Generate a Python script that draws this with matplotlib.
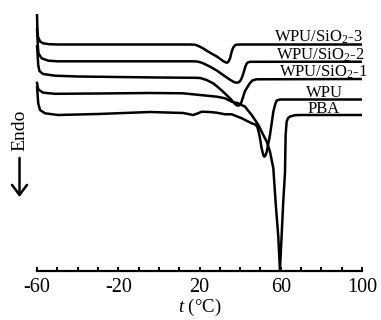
import matplotlib
matplotlib.use("Agg")
import matplotlib.pyplot as plt
from matplotlib.ticker import FixedLocator, MultipleLocator

plt.rcParams['font.family'] = ['Liberation Serif', 'DejaVu Serif']
plt.rcParams['mathtext.fontset'] = 'custom'
plt.rcParams['mathtext.rm'] = 'Liberation Serif'
plt.rcParams['mathtext.it'] = 'Liberation Serif:italic'
plt.rcParams['axes.unicode_minus'] = False

# ---- data (temperature in degC, heat flow in arbitrary units) ----
t_s3 = [-60, -59.8, -59.5, -58.5, -57, -54, -50, -20, 10, 15, 17.8, 19.5, 21.7, 25, 28.7, 31.6,
        32.8, 33.6, 34.3, 35.1, 35.8, 36.6, 37.5, 38.5, 40, 60, 100]
hf_s3 = [266, 250, 243, 238.5, 236.7, 235.8, 235.5, 235.5, 235.5, 235.5, 235.3, 234, 231.7, 227.5, 223.3, 219,
         217.7, 217.3, 218.5, 222, 228, 232.5, 234.8, 235.4, 235.5, 235.5, 235.5]

t_s2 = [-60, -59.6, -59.3, -57.7, -54.4, -50, 0, 16, 18.8, 20.5, 22, 25.2, 28.5, 31.6, 34.5, 36.6,
        37.5, 38.5, 39.4, 40.2, 41, 41.8, 42.5, 43.2, 43.9, 45, 100]
hf_s2 = [252, 235, 226.7, 221.7, 219.3, 218.7, 218.7, 218.7, 218.5, 217.7, 216.5, 213.3, 209.5, 205, 201, 198.3,
         197.6, 197.3, 197.8, 199.5, 203, 208, 213, 216.3, 217.7, 218.2, 218.3]

t_s1 = [-60, -59.4, -58.8, -57, -51.1, -40, 0, 18, 20.3, 23.5, 26.7, 29, 31.6, 35, 37.5,
        38.3, 39.1, 39.8, 40.5, 42.4, 44.5, 46, 48, 100]
hf_s1 = [235, 215, 209, 206, 204.3, 203.5, 202.5, 202.2, 202, 200, 196.7, 193, 188.3, 181.7, 176,
         174.8, 174.3, 175, 177, 189, 196, 199.5, 200.7, 201]

t_wpu = [-60, -59.4, -58.5, -56.1, -49.7, -30, -4.4, 11.9, 14.5, 16.8, 19, 21.1, 25, 28.5,
         32.6, 35.9, 40.8, 45.7, 47.5, 48.5, 49.5, 50.6, 51.4, 51.9, 52.5, 53.1, 54.7, 56.35,
         57.3, 58, 59.6, 100]
hf_wpu = [194, 176.7, 170, 166.7, 165, 166, 168, 167, 166, 165, 166.5, 168.3, 168, 167.3,
          165.7, 165.7, 161.7, 156.7, 155.5, 153, 145, 131.7, 125, 123.3, 124.5, 128.3, 145, 168.3,
          176, 179.5, 180.5, 180.5]

t_pba = [-60.1, -59.7, -59.4, -57, -51, -30, -4.4, 11.9, 28.6, 32.6, 35.9, 39.1, 42.4, 45.7,
         49, 51.4, 53.1, 54.7, 56.35, 57.5, 58.8, 59.6, 60.4, 61.2, 62.1, 62.4, 62.9, 63.6, 64.6,
         67, 69.5, 100]
hf_pba = [198.3, 194, 190.7, 187.3, 186.2, 186.5, 187, 186.7, 183.3, 181.7, 178.3, 176.7, 173.3, 165,
          155, 145, 138.3, 128.3, 111.7, 77, 43, 10, 43, 77, 108, 145, 158.3, 162, 163.5,
          164.8, 165, 165]

series = [
    (t_s3, hf_s3), (t_s2, hf_s2), (t_s1, hf_s1), (t_wpu, hf_wpu), (t_pba, hf_pba)
]
labels = ['WPU/SiO$_2$-3', 'WPU/SiO$_2$-2', 'WPU/SiO$_2$-1', 'WPU', 'PBA']
label_t = [100.5, 101.3, 102.8, 81.3, 81.3]
label_hf = [238.3, 220.7, 203.3, 183.3, 166.7]
label_ha = ['right', 'right', 'right', 'center', 'center']

xticks = [-60, -20, 20, 60, 100]
xticklabels = ['-60', '-20', '20', '60', '100']

# ---- figure ----
W, H = 381, 320
fig = plt.figure(figsize=(W / 100, H / 100), dpi=100)
ax = fig.add_axes([37 / W, 1 - 271 / H, 325 / W, 261 / H])

for t, hf in series:
    ax.plot(t, hf, color='black', lw=1.8, solid_capstyle='butt',
            solid_joinstyle='round', clip_on=False)

for lab, x, y, ha in zip(labels, label_t, label_hf, label_ha):
    ax.text(x, y, lab, ha=ha, va='baseline', fontsize=12)

ax.set_xlim(-60, 100)
ax.set_ylim(9, 270)
for s in ['top', 'left', 'right']:
    ax.spines[s].set_visible(False)
ax.spines['bottom'].set_linewidth(1.6)
ax.set_yticks([])
ax.xaxis.set_major_locator(FixedLocator(xticks))
ax.set_xticklabels(xticklabels)
ax.xaxis.set_minor_locator(MultipleLocator(10))
ax.tick_params(axis='x', which='both', direction='in', length=3, width=1.4,
               labelsize=14.5, pad=5)
ax.set_xlabel(r'$\it{t}$ (°C)', fontsize=13.5, labelpad=0)

fig.text(19.5 / W, 1 - 130 / H, 'Endo', rotation=90, ha='center', va='center', fontsize=14)
fig.add_artist(matplotlib.patches.FancyArrowPatch(
    (19.5 / W, 1 - 158 / H), (19.5 / W, 1 - 197 / H), transform=fig.transFigure,
    arrowstyle='->,head_length=0.6,head_width=0.45', mutation_scale=12,
    color='black', lw=1.8, shrinkA=0, shrinkB=0))

fig.savefig('out.png', dpi=100)
